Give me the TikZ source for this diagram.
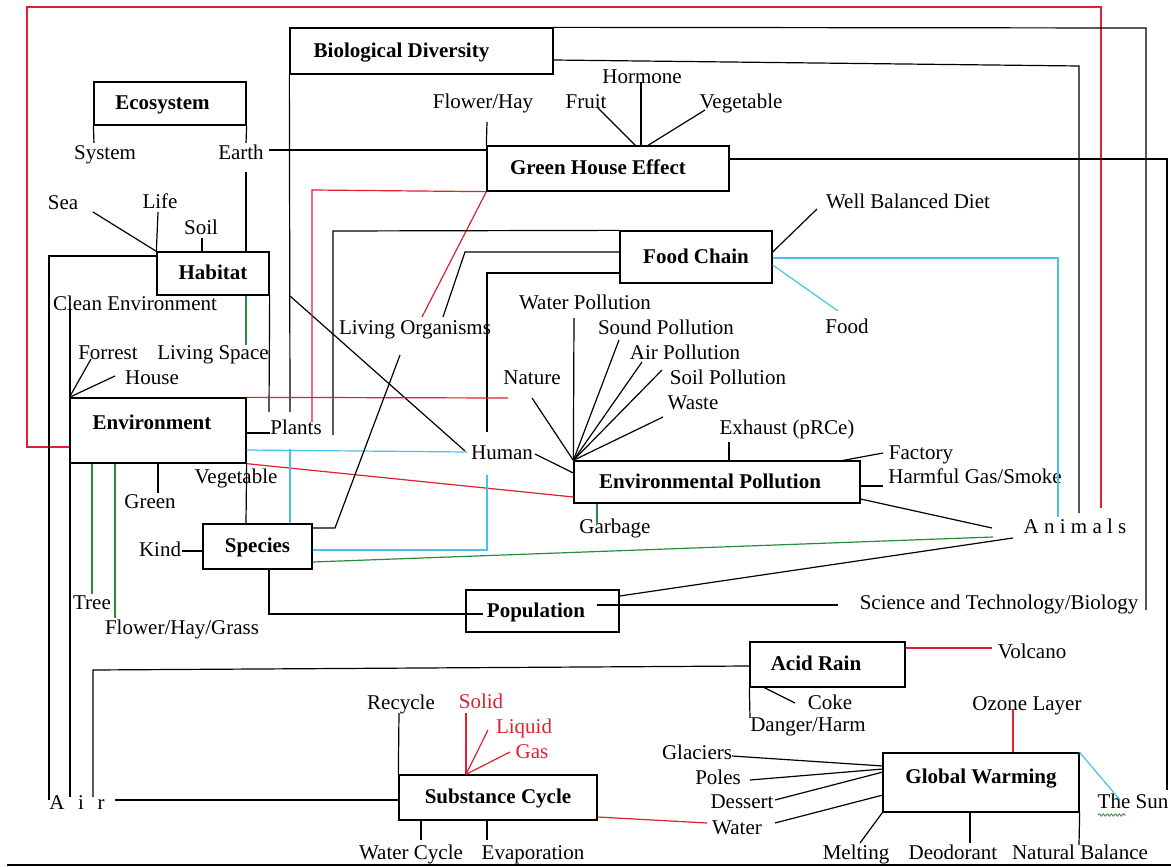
\documentclass[tikz,border=0pt]{standalone}
\usepackage{fontspec}
\setmainfont{Liberation Serif}
\usetikzlibrary{decorations.pathmorphing}
\definecolor{rline}{RGB}{222,32,48}
\definecolor{cline}{RGB}{70,195,232}
\definecolor{gline}{RGB}{40,140,60}
\begin{document}
\begin{tikzpicture}[x=1pt,y=-1pt,
  every node/.style={font=\fontsize{21}{24}\selectfont},
  lbl/.style={inner sep=0pt,text height=1.45em,text depth=0.18em},
  cbox/.style={draw,line width=1.3pt,inner sep=0pt,font=\fontsize{21}{24}\selectfont\bfseries,text height=1.4em,text depth=0.18em},
  con/.style={line width=1.2pt},
  rcon/.style={con,draw=rline},
  ccon/.style={con,draw=cline},
  gcon/.style={con,draw=gline}]
\useasboundingbox[fill=white] (0,0) rectangle (1171,867);

% ---------- boxes ----------
\node[cbox,minimum width=263pt,minimum height=46pt] (bio) at (421.5,51) {\hspace*{-40pt}Biological Diversity};
\node[cbox,minimum width=152pt,minimum height=43pt] (eco) at (170,103.5) {\hspace*{-15pt}Ecosystem};
\node[cbox,minimum width=242pt,minimum height=45pt] (ghe) at (608,168.5) {\hspace*{-20pt}Green House Effect};
\node[cbox,minimum width=112pt,minimum height=43pt] (hab) at (213,273.5) {Habitat};
\node[cbox,minimum width=152pt,minimum height=52pt] (fc) at (696,257) {Food Chain};
\node[cbox,minimum width=176pt,minimum height=65pt] (env) at (158,430.5) {\hspace*{-12pt}\raisebox{7pt}{Environment}};
\node[cbox,minimum width=286pt,minimum height=42pt] (ep) at (717,482) {\hspace*{-14pt}Environmental Pollution};
\node[cbox,minimum width=109pt,minimum height=45pt] (spc) at (257.5,546.5) {Species};
\node[cbox,minimum width=153pt,minimum height=42pt] (pop) at (542.5,611) {\hspace*{-13pt}Population};
\node[cbox,minimum width=155pt,minimum height=45pt] (acid) at (827.5,664.5) {\hspace*{-23pt}Acid Rain};
\node[cbox,minimum width=196pt,minimum height=59pt] (gw) at (981,782.5) {\raisebox{5pt}{Global Warming}};
\node[cbox,minimum width=198pt,minimum height=45pt] (sc) at (498,797.5) {Substance Cycle};

% ---------- labels ----------
\node[lbl] (system) at (105,153) {System};
\node[lbl] (earth) at (241,153) {Earth};
\node[lbl] (sea) at (63,203) {Sea};
\node[lbl] (life) at (160,202) {Life};
\node[lbl] (soil) at (201,228) {Soil};
\node[lbl] (clean) at (135,304) {Clean Environment};
\node[lbl] (lspace) at (213,353) {Living Space};
\node[lbl] (forrest) at (108,353) {Forrest};
\node[lbl] (house) at (152,378) {House};
\node[lbl] (plants) at (296,428) {Plants};
\node[lbl] (veg) at (236,477) {Vegetable};
\node[lbl] (green) at (150,502) {Green};
\node[lbl] (kind) at (160,550) {Kind};
\node[lbl] (tree) at (92,603) {Tree};
\node[lbl] (fhg) at (182,628) {Flower/Hay/Grass};
\node[lbl] (air) at (77,803) {A\hspace{0.65em}i\hspace{0.65em}r};
\node[lbl] (fh) at (483,102) {Flower/Hay};
\node[lbl] (fruit) at (586,102) {Fruit};
\node[lbl] (hormone) at (642,77) {Hormone};
\node[lbl] (veg2) at (741,102) {Vegetable};
\node[lbl] (wbd) at (908,202) {Well Balanced Diet};
\node[lbl] (food) at (847,327) {Food};
\node[lbl] (lorg) at (415,328) {Living Organisms};
\node[lbl] (wpol) at (585,303) {Water Pollution};
\node[lbl] (spol) at (666,328) {Sound Pollution};
\node[lbl] (apol) at (685,353) {Air Pollution};
\node[lbl] (sopol) at (728,378) {Soil Pollution};
\node[lbl] (waste) at (693,403) {Waste};
\node[lbl] (nature) at (532,378) {Nature};
\node[lbl] (exhaust) at (787,428) {Exhaust (pRCe)};
\node[lbl] (human) at (502,453) {Human};
\node[lbl] (factory) at (921,453) {Factory};
\node[lbl] (harm) at (975,477) {Harmful Gas/Smoke};
\node[lbl] (garbage) at (615,527) {Garbage};
\node[lbl] (animals) at (1075,527) {A n i m a l s};
\node[lbl] (sci) at (999,603) {Science and Technology/Biology};
\node[lbl] (volcano) at (1032,652) {Volcano};
\node[lbl] (coke) at (830,703) {Coke};
\node[lbl] (danger) at (808,725) {Danger/Harm};
\node[lbl] (ozone) at (1027,704) {Ozone Layer};
\node[lbl] (recycle) at (401,703) {Recycle};
\node[lbl,text=rline] (solid) at (481,702) {Solid};
\node[lbl,text=rline] (liquid) at (524,727) {Liquid};
\node[lbl,text=rline] (gas) at (532,752) {Gas};
\node[lbl] (glaciers) at (697,753) {Glaciers};
\node[lbl] (poles) at (718,778) {Poles};
\node[lbl] (dessert) at (742,802) {Dessert};
\node[lbl] (water) at (737,828) {Water};
\node[lbl] (sun) at (1133,802) {The Sun};
\node[lbl] (wcycle) at (411,853) {Water Cycle};
\node[lbl] (evap) at (533,853) {Evaporation};
\node[lbl] (melting) at (856,853) {Melting};
\node[lbl] (deo) at (953,853) {Deodorant};
\node[lbl] (natbal) at (1080,853) {Natural Balance};

% ---------- long frame lines ----------
\draw[rcon] (env.west |- 0,447) -- (27,447) -- (27,7) -- (1101,7) -- (1101,508);
\draw[con] (bio.north east) -- (1146,28) -- (1146,610);
\draw[con] (bio.east |- 0,60) -- (1079,66) -- (1079,513);
\draw[con] (bio.south west) -- (290,412);
\draw[con] (290,296) -- (465,451);
\draw[con] (ghe.east |- 0,159) -- (1167,159) -- (1167,790);
\draw[con] (7,865) -- (1171,865);

% ---------- Ecosystem / Habitat ----------
\draw[con] (eco.south west) -- (94,143);
\draw[con] (eco.south east) -- (246,143);
\draw[con] (269,150) -- (ghe.west |- 0,150);
\draw[con] (246,172) -- (hab.north east -| 246,0);
\draw[con] (202,238) -- (hab.north -| 202,0);
\draw[con] (158,212) -- (hab.north west);
\draw[con] (93,212) -- (hab.north west);
\draw[gcon] (hab.south -| 246,0) -- (246,345);
\draw[con] (hab.south east) -- (269,412);
\draw[con] (hab.west |- 0,256) -- (49,256) -- (49,800);
\draw[con] (70,308) -- (70,797);

% ---------- Green House Effect ----------
\draw[con] (ghe.north west) -- (487,122);
\draw[con] (636,146) -- (598,108);
\draw[con] (641,146) -- (641,82);
\draw[con] (647,146) -- (705,110);
\draw[rcon] (ghe.south west) -- (312,190) -- (312,422);
\draw[rcon] (ghe.south west) -- (422,317);

% ---------- Food Chain ----------
\draw[con] (fc.north west) -- (333,231) -- (333,435);
\draw[con] (fc.west |- 0,252) -- (465,252) -- (443,317);
\draw[con] (fc.west |- 0,273) -- (487,273) -- (487,432);
\draw[con] (fc.east |- 0,252) -- (817,209);
\draw[ccon] (fc.east |- 0,258) -- (1058,258) -- (1058,517);
\draw[ccon] (fc.east |- 0,265) -- (838,311);

% ---------- Environment ----------
\draw[con] (env.north west) -- (91,359);
\draw[con] (env.north west) -- (115,376);
\draw[con] (env.east |- 0,433) -- (plants.west |- 0,433);
\draw[con] (env.south -| 158,0) -- (158,493);
\draw[gcon] (env.south -| 92,0) -- (92,594);
\draw[gcon] (env.south -| 115,0) -- (115,618);
\draw[con] (env.south east) -- (spc.north -| 246,0);
\draw[rcon] (env.south east) -- (ep.west |- 0,497);
\draw[rcon] (env.north east) -- (508,398);
\draw[ccon] (env.east |- 0,450) -- (467,452);

% ---------- Species ----------
\draw[con] (182,551) -- (spc.west |- 0,551);
\draw[ccon] (290,449) -- (spc.north -| 290,0);
\draw[con] (spc.east |- 0,528) -- (335,528) -- (400,355);
\draw[ccon] (487,475) -- (487,550) -- (spc.east |- 0,550);
\draw[gcon] (spc.east |- 0,562) -- (993,537);
\draw[con] (spc.south -| 269,0) -- (269,614) -- (483,614);

% ---------- Environmental Pollution ----------
\draw[con] (ep.north west) -- (574,318);
\draw[con] (ep.north west) -- (619,340);
\draw[con] (ep.north west) -- (642,362);
\draw[con] (ep.north west) -- (662,370);
\draw[con] (ep.north west) -- (663,417);
\draw[con] (ep.north west) -- (532,398);
\draw[con] (535,454) -- (ep.west |- 0,473);
\draw[con] (ep.north -| 729,0) -- (729,442);
\draw[con] (840,461) -- (883,453);
\draw[con] (ep.east |- 0,486) -- (883,486);
\draw[gcon] (ep.south -| 597,0) -- (597,523);
\draw[con] (ep.east |- 0,499) -- (992,528);

% ---------- Population ----------
\draw[con] (pop.east |- 0,596) -- (1013,538);
\draw[con] (597,605) -- (838,605);

% ---------- Acid Rain ----------
\draw[con] (acid.west |- 0,666) -- (93,670) -- (93,797);
\draw[rcon] (acid.east |- 0,648) -- (992,648);
\draw[con] (763,687) -- (795,703);
\draw[con] (acid.south west) -- (750,718);

% ---------- Global Warming ----------
\draw[rcon] (gw.north -| 1013,0) -- (1013,709);
\draw[ccon] (gw.north east) -- (1120,800);
\draw[con] (732,756) -- (883,766);
\draw[con] (750,780) -- (883,769);
\draw[con] (775,800) -- (883,772);
\draw[con] (775,823) -- (883,795);
\draw[con] (gw.south west) -- (860,843);
\draw[con] (gw.south -| 970,0) -- (970,843);
\draw[con] (gw.south east) -- (1079,845);
\draw[gline,line width=0.8pt,decorate,decoration={snake,amplitude=1.2pt,segment length=4pt}] (1098,815) -- (1126,815);

% ---------- Substance Cycle ----------
\draw[con] (115,800) -- (sc.west |- 0,800);
\draw[con] (sc.north west) -- (399,713);
\draw[rcon] (sc.north -| 466,0) -- (466,713);
\draw[rcon] (sc.north -| 466,0) -- (488,730);
\draw[rcon] (sc.north -| 466,0) -- (510,752);
\draw[con] (sc.south -| 421,0) -- (421,840);
\draw[con] (sc.south -| 487,0) -- (487,840);
\draw[rcon] (sc.east |- 0,817) -- (707,823);
\end{tikzpicture}
\end{document}
